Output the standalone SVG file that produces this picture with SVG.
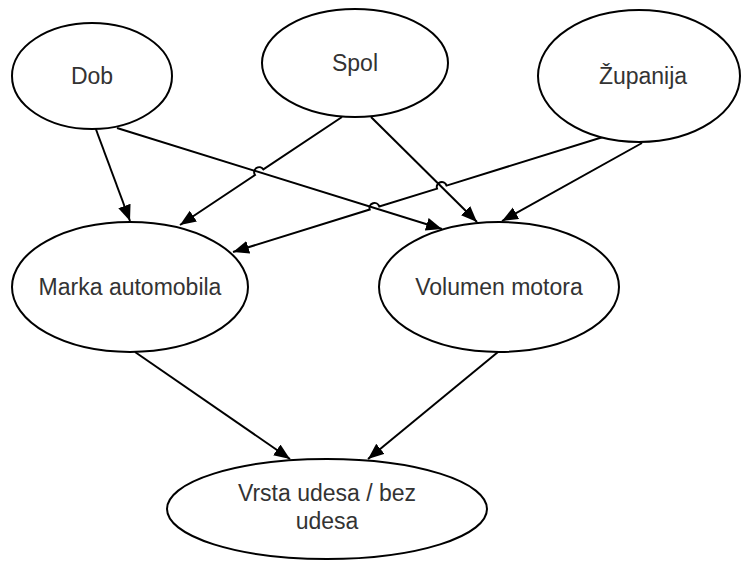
<svg xmlns="http://www.w3.org/2000/svg" width="741" height="562" viewBox="0 0 741 562">
<style>
.node ellipse{fill:#fff;stroke:#000;stroke-width:2}
.node text{font-family:"Liberation Sans",Arial,sans-serif;font-size:23px;fill:#333;text-anchor:middle}
.edge{fill:none;stroke:#000;stroke-width:2;marker-end:url(#arr)}
</style>
<defs>
<marker id="arr" markerUnits="userSpaceOnUse" markerWidth="18" markerHeight="14" refX="16" refY="6.5" orient="auto">
<path d="M0,0 L16,6.5 L0,13 z" fill="#000"/>
</marker>
</defs>
<rect width="741" height="562" fill="#fff"/>
<g id="connectors">
<path class="edge" d="M91,116 L130,221"/>
<path class="edge" d="M117,128 L442,229"/>
<path class="edge" d="M342,117 L263.4,169.4 A5,5 0 0 0 255,175 L180,225"/>
<path class="edge" d="M371,117 L477,222"/>
<path class="edge" d="M603,137 L446.6,185.6 A5,5 0 0 0 437,188.6 L379.3,206.5 A5,5 0 0 0 369.7,209.5 L233,252"/>
<path class="edge" d="M642,143 L502,221"/>
<path class="edge" d="M135,352 L290,459"/>
<path class="edge" d="M498,352 L368,459"/>
</g>
<g id="dob" class="node"><ellipse cx="92" cy="76" rx="80" ry="53"/><text x="92" y="84">Dob</text></g>
<g id="spol" class="node"><ellipse cx="355" cy="63" rx="93" ry="54"/><text x="355" y="71">Spol</text></g>
<g id="zupanija" class="node"><ellipse cx="639" cy="76" rx="101" ry="66"/><text x="643" y="84">Županija</text></g>
<g id="marka" class="node"><ellipse cx="130" cy="287" rx="118" ry="65"/><text x="130" y="295">Marka automobila</text></g>
<g id="volumen" class="node"><ellipse cx="499" cy="287" rx="120" ry="65"/><text x="499" y="295">Volumen motora</text></g>
<g id="vrsta" class="node"><ellipse cx="327" cy="509" rx="160" ry="50"/><text x="327" y="501">Vrsta udesa / bez</text><text x="327" y="529">udesa</text></g>
</svg>
